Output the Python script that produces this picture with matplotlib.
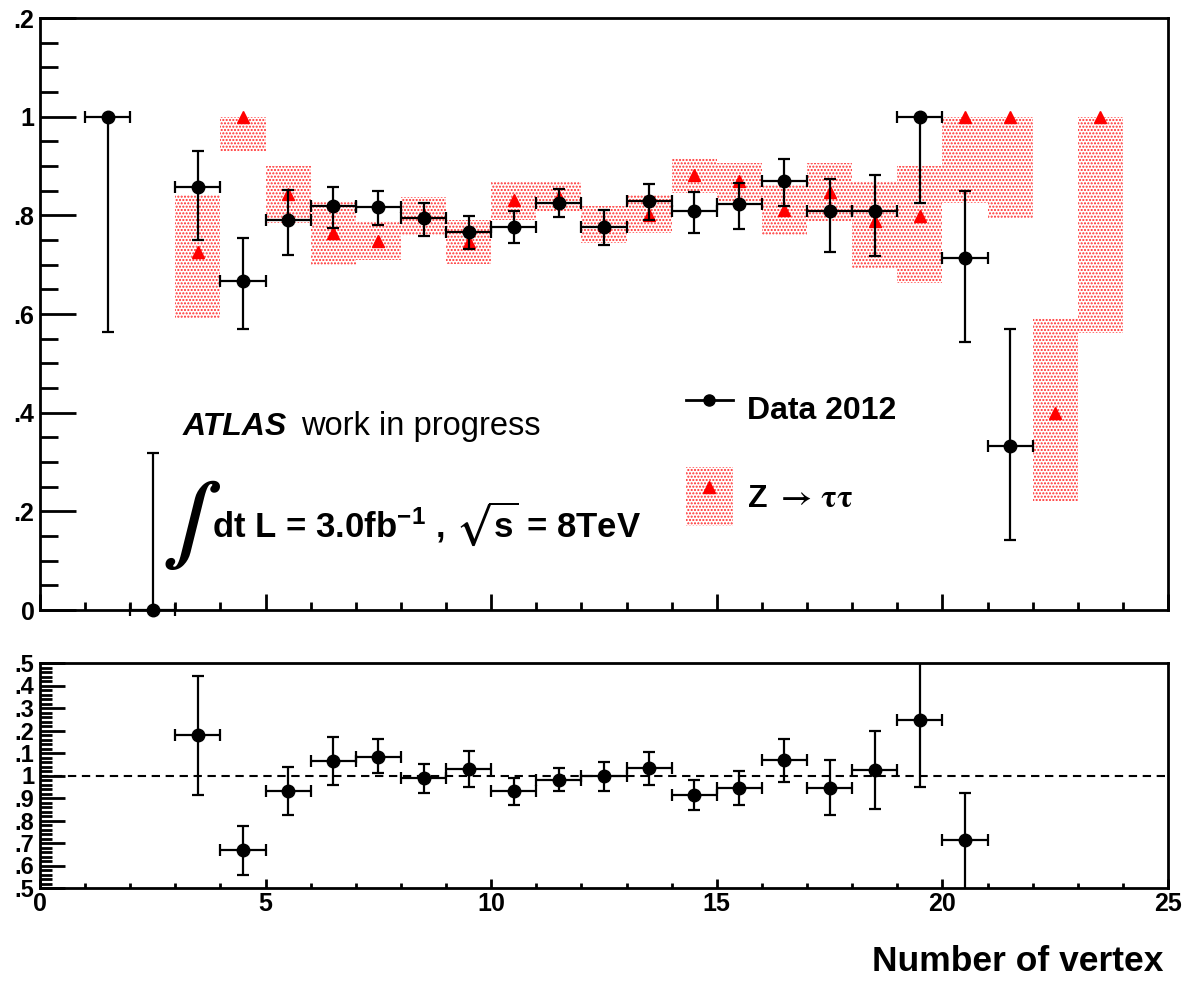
import matplotlib
matplotlib.use('Agg')
import matplotlib.pyplot as plt
from matplotlib.lines import Line2D
from matplotlib.patches import Patch
from matplotlib.ticker import MultipleLocator, FixedLocator, FixedFormatter
import numpy as np

plt.rcParams['font.family'] = ['Liberation Sans', 'DejaVu Sans']
plt.rcParams['font.weight'] = 'bold'
plt.rcParams['hatch.linewidth'] = 1.0

# efficiency per number-of-vertex bin (bin width 1)
data_x = [1.5, 2.5, 3.5, 4.5, 5.5, 6.5, 7.5, 8.5, 9.5, 10.5, 11.5,
          12.5, 13.5, 14.5, 15.5, 16.5, 17.5, 18.5, 19.5, 20.5, 21.5]
data_eff = [1.0, 0.0, 0.857, 0.667, 0.790, 0.818, 0.816, 0.794, 0.767, 0.776, 0.826,
            0.777, 0.829, 0.808, 0.822, 0.869, 0.808, 0.809, 1.0, 0.714, 0.333]
data_lo = [0.563, 0.0, 0.750, 0.569, 0.719, 0.774, 0.780, 0.759, 0.732, 0.744, 0.797,
           0.740, 0.790, 0.764, 0.772, 0.818, 0.725, 0.717, 0.826, 0.544, 0.141]
data_hi = [1.0, 0.319, 0.931, 0.755, 0.852, 0.857, 0.850, 0.825, 0.799, 0.808, 0.853,
           0.810, 0.864, 0.848, 0.866, 0.914, 0.873, 0.882, 1.0, 0.850, 0.569]

# Z -> tautau simulation with its uncertainty band
mc_x = [3.5, 4.5, 5.5, 6.5, 7.5, 8.5, 9.5, 10.5, 11.5, 12.5, 13.5,
        14.5, 15.5, 16.5, 17.5, 18.5, 19.5, 20.5, 21.5, 22.5, 23.5]
mc_eff = [0.725, 1.0, 0.843, 0.765, 0.748, 0.800, 0.745, 0.832, 0.838, 0.781, 0.800,
          0.882, 0.869, 0.810, 0.848, 0.788, 0.798, 1.0, 1.0, 0.400, 1.0]
mc_lo = [0.590, 0.930, 0.784, 0.700, 0.710, 0.761, 0.702, 0.791, 0.808, 0.744, 0.764,
         0.845, 0.828, 0.761, 0.788, 0.693, 0.663, 0.824, 0.794, 0.221, 0.562]
mc_hi = [0.842, 1.0, 0.899, 0.828, 0.788, 0.838, 0.791, 0.870, 0.868, 0.818, 0.842,
         0.916, 0.906, 0.862, 0.906, 0.869, 0.899, 1.0, 1.0, 0.592, 1.0]

# data / MC ratio
ratio_x = [3.5, 4.5, 5.5, 6.5, 7.5, 8.5, 9.5, 10.5, 11.5,
           12.5, 13.5, 14.5, 15.5, 16.5, 17.5, 18.5, 19.5, 20.5]
ratio = [1.178, 0.667, 0.933, 1.064, 1.084, 0.988, 1.028, 0.932, 0.981,
         0.996, 1.033, 0.914, 0.944, 1.067, 0.945, 1.025, 1.247, 0.714]
ratio_lo = [0.914, 0.559, 0.825, 0.956, 1.010, 0.921, 0.947, 0.870, 0.930,
            0.929, 0.956, 0.847, 0.871, 0.972, 0.825, 0.850, 0.948, 0.460]
ratio_hi = [1.444, 0.775, 1.040, 1.173, 1.164, 1.052, 1.107, 0.991, 1.033,
            1.059, 1.104, 0.978, 1.018, 1.164, 1.068, 1.199, 1.560, 0.921]

top_ticks = [0, 0.2, 0.4, 0.6, 0.8, 1.0, 1.2]
top_tick_text = ['0', '.2', '.4', '.6', '.8', '1', '.2']
ratio_ticks = [0.5, 0.6, 0.7, 0.8, 0.9, 1.0, 1.1, 1.2, 1.3, 1.4, 1.5]
ratio_tick_text = ['.5', '.6', '.7', '.8', '.9', '1', '.1', '.2', '.3', '.4', '.5']

W, H = 1182, 981
band_color = '#ff2a2a'

fig = plt.figure(figsize=(W / 100, H / 100), dpi=100)
ax = fig.add_axes([40 / W, 1 - 610 / H, 1128 / W, 592 / H])
rax = fig.add_axes([40 / W, 1 - 888 / H, 1128 / W, 225 / H])

# uncertainty band of the simulation
mc_lo_a = np.array(mc_lo)
mc_hi_a = np.array(mc_hi)
ax.bar(mc_x, mc_hi_a - mc_lo_a, bottom=mc_lo_a, width=1.0, facecolor='none',
       edgecolor=band_color, hatch='.....', linewidth=0, zorder=1)
ax.plot(mc_x, mc_eff, ls='none', marker='^', color='red', ms=8, zorder=3, clip_on=False)

eff = np.array(data_eff)
yerr = [eff - np.array(data_lo), np.array(data_hi) - eff]
eb = ax.errorbar(data_x, data_eff, xerr=0.5, yerr=yerr, fmt='o', color='k', ms=9,
                 elinewidth=1.6, capsize=4.5, capthick=1.6, zorder=4)
for art in eb.get_children():
    art.set_clip_on(False)

ax.set_xlim(0, 25)
ax.set_ylim(0, 1.2)
ax.xaxis.set_major_locator(MultipleLocator(5))
ax.xaxis.set_minor_locator(MultipleLocator(1))
ax.yaxis.set_major_locator(FixedLocator(top_ticks))
ax.yaxis.set_major_formatter(FixedFormatter(top_tick_text))
ax.yaxis.set_minor_locator(MultipleLocator(0.05))
ax.tick_params(which='both', direction='in', top=False, right=False)
ax.tick_params(axis='y', which='major', length=26, width=2, labelsize=18, pad=4)
ax.tick_params(axis='y', which='minor', length=13, width=2)
ax.tick_params(axis='x', which='major', length=11.5, width=2, labelbottom=False)
ax.tick_params(axis='x', which='minor', length=6, width=2)

# ratio panel
r = np.array(ratio)
rerr = [r - np.array(ratio_lo), np.array(ratio_hi) - r]
rax.axhline(1.0, color='k', lw=1.5, dashes=(4, 2.7), zorder=1)
rax.errorbar(ratio_x, ratio, xerr=0.5, yerr=rerr, fmt='o', color='k', ms=9,
             elinewidth=1.6, capsize=4.5, capthick=1.6, zorder=4)
rax.set_xlim(0, 25)
rax.set_ylim(0.5, 1.5)
rax.xaxis.set_major_locator(MultipleLocator(5))
rax.xaxis.set_minor_locator(MultipleLocator(1))
rax.yaxis.set_major_locator(FixedLocator(ratio_ticks))
rax.yaxis.set_major_formatter(FixedFormatter(ratio_tick_text))
rax.yaxis.set_minor_locator(MultipleLocator(0.02))
rax.tick_params(which='both', direction='in', top=False, right=False)
rax.tick_params(axis='y', which='major', length=18, width=2, labelsize=17, pad=4)
rax.tick_params(axis='y', which='minor', length=8.5, width=2)
rax.tick_params(axis='x', which='major', length=6.5, width=2, labelsize=18, pad=3)
rax.tick_params(axis='x', which='minor', length=3.5, width=2)

for a in (ax, rax):
    for sp in a.spines.values():
        sp.set_linewidth(2)

# legend
h_data = Line2D([], [], color='k', marker='o', ms=8, lw=2)
h_band = Patch(facecolor='none', edgecolor=band_color, hatch='.....', linewidth=0)
h_tri = Line2D([], [], color='red', marker='^', ls='none', ms=8)
leg = ax.legend([h_data, (h_band, h_tri)],
                ['Data 2012', r'Z $\mathrm{\rightarrow\,\tau\tau}$'],
                loc='upper left', bbox_to_anchor=(686 / W, 1 - 380 / H),
                bbox_transform=fig.transFigure, frameon=False, borderpad=0,
                borderaxespad=0, handlelength=1.47, handleheight=2.47,
                handletextpad=0.44, labelspacing=0.88,
                prop={'size': 23, 'weight': 'bold'})
leg.get_texts()[1].set_math_fontfamily('stix')

# labels
fig.text(183 / W, 1 - 435 / H, 'ATLAS', style='italic', weight='bold', size=23,
         va='baseline')
fig.text(301 / W, 1 - 435 / H, 'work in progress', weight='normal', size=23.5,
         va='baseline')
fig.text(162 / W, 1 - 525 / H, r'$\int$', math_fontfamily='stix', size=56,
         va='center', ha='left')
fig.text(212 / W, 1 - 537 / H,
         r'dt L = 3.0fb$^{\mathdefault{-1}}$ , $\sqrt{\mathdefault{s}}$ = 8TeV',
         size=25, va='baseline', math_fontfamily='stix')
fig.text(1163 / W, 1 - 971 / H, 'Number of vertex', size=25.5, ha='right',
         va='baseline')

fig.savefig('out.png', dpi=100)
